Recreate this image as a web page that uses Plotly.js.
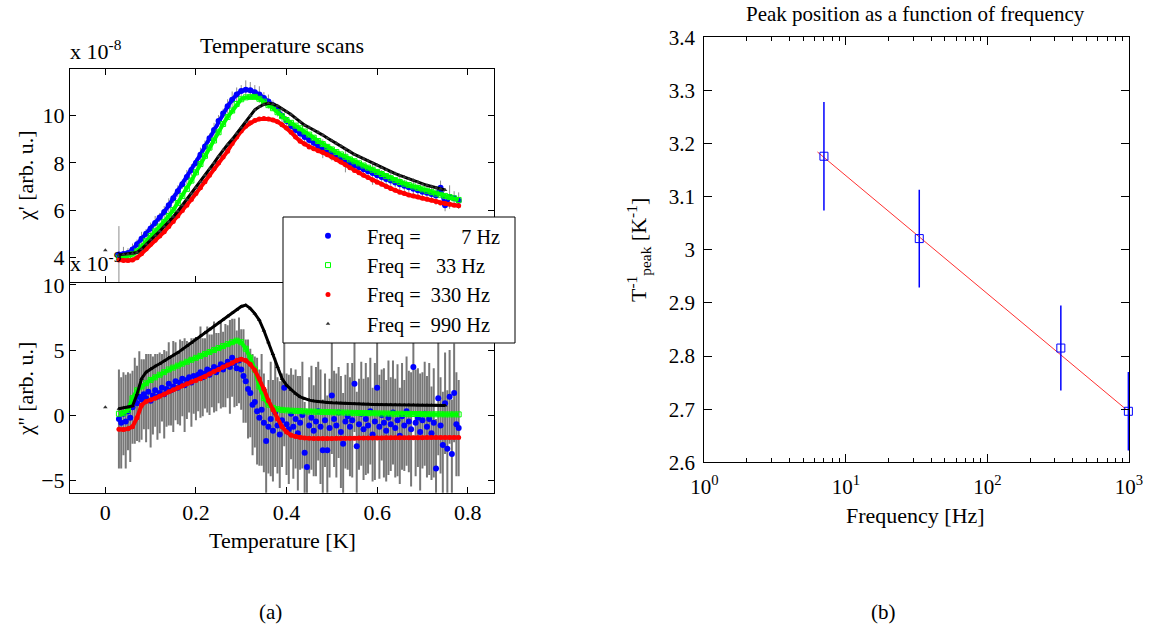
<!DOCTYPE html>
<html><head><meta charset="utf-8">
<script src="https://cdn.plot.ly/plotly-3.0.1.min.js"></script>
<style>html,body{margin:0;padding:0;background:#fff}#chart{width:1150px;height:634px}</style>
</head><body><div id="chart"></div>
<script>
// ---------- data: temperature grid (K) ----------
const T = [0.03,0.04,0.05,0.06,0.07,0.08,0.09,0.10,0.11,0.12,
  0.13,0.14,0.15,0.16,0.17,0.18,0.19,0.20,0.21,0.22,
  0.23,0.24,0.25,0.26,0.27,0.28,0.29,0.30,0.31,0.32,
  0.33,0.34,0.35,0.36,0.37,0.38,0.39,0.40,0.41,0.42,
  0.43,0.44,0.45,0.46,0.47,0.48,0.49,0.50,0.51,0.52,
  0.53,0.54,0.55,0.56,0.57,0.58,0.59,0.60,0.61,0.62,
  0.63,0.64,0.65,0.66,0.67,0.68,0.69,0.70,0.71,0.72,
  0.73,0.74,0.75,0.76,0.77,0.78];
const T2 = [0.030,0.035,0.040,0.045,0.050,0.055,0.060,0.065,0.070,0.075,
  0.080,0.085,0.090,0.095,0.100,0.105,0.110,0.115,0.120,0.125,
  0.130,0.135,0.140,0.145,0.150,0.155,0.160,0.165,0.170,0.175,
  0.180,0.185,0.190,0.195,0.200,0.205,0.210,0.215,0.220,0.225,
  0.230,0.235,0.240,0.245,0.250,0.255,0.260,0.265,0.270,0.275,
  0.280,0.285,0.290,0.295,0.300,0.305,0.310,0.315,0.320,0.325,
  0.330,0.335,0.340,0.345,0.350,0.355,0.360,0.365,0.370,0.375,
  0.380,0.385,0.390,0.395,0.400,0.405,0.410,0.415,0.420,0.425,
  0.430,0.435,0.440,0.445,0.450,0.455,0.460,0.465,0.470,0.475,
  0.480,0.485,0.490,0.495,0.500,0.505,0.510,0.515,0.520,0.525,
  0.530,0.535,0.540,0.545,0.550,0.555,0.560,0.565,0.570,0.575,
  0.580,0.585,0.590,0.595,0.600,0.605,0.610,0.615,0.620,0.625,
  0.630,0.635,0.640,0.645,0.650,0.655,0.660,0.665,0.670,0.675,
  0.680,0.685,0.690,0.695,0.700,0.705,0.710,0.715,0.720,0.725,
  0.730,0.735,0.740,0.745,0.750,0.755,0.760,0.765,0.770,0.775,
  0.780];

// ---------- chi' (x 1e-8) ----------
const chi1_7 = [4.12,4.14,4.18,4.33,4.55,4.78,5.0,5.22,5.45,5.68,
  5.92,6.2,6.5,6.8,7.1,7.4,7.7,8.0,8.35,8.7,
  9.05,9.4,9.78,10.1,10.4,10.68,10.9,11.05,11.1,11.08,
  11.0,10.9,10.75,10.6,10.45,10.22,10.0,9.78,9.57,9.4,
  9.25,9.1,8.97,8.85,8.72,8.6,8.5,8.4,8.3,8.2,
  8.1,8.0,7.9,7.82,7.73,7.65,7.57,7.48,7.4,7.32,
  7.25,7.17,7.1,7.03,6.97,6.9,6.84,6.78,6.73,6.68,
  6.62,6.95,6.2,6.55,6.5,6.4];
const err1_7 = [1.2,0.3,0.2,0.25,0.2,0.3,0.2,0.25,0.3,0.2,
  0.25,0.3,0.2,0.25,0.2,0.3,0.25,0.2,0.3,0.25,
  0.2,0.3,0.25,0.2,0.3,0.35,0.3,0.25,0.4,0.35,
  0.3,0.35,0.25,0.3,0.2,0.25,0.3,0.2,0.25,0.2,
  0.3,0.25,0.2,0.3,0.25,0.4,0.2,0.3,0.25,0.2,
  0.5,0.25,0.2,0.3,0.25,0.2,0.5,0.2,0.3,0.25,
  0.4,0.2,0.3,0.25,0.2,0.3,0.25,0.2,0.3,0.25,
  0.4,0.3,0.25,0.5,0.3,0.35];
const chi1_33 = [3.98,4.0,4.05,4.12,4.25,4.45,4.68,4.9,5.1,5.3,
  5.5,5.75,6.0,6.3,6.6,6.9,7.25,7.6,7.95,8.3,
  8.65,8.95,9.3,9.65,9.95,10.22,10.5,10.7,10.78,10.8,
  10.8,10.72,10.6,10.45,10.32,10.15,9.98,9.82,9.7,9.58,
  9.47,9.33,9.2,9.07,8.93,8.8,8.68,8.57,8.46,8.36,
  8.26,8.15,8.07,7.98,7.89,7.8,7.71,7.62,7.53,7.44,
  7.35,7.27,7.19,7.12,7.06,7.0,6.94,6.88,6.82,6.76,
  6.7,6.65,6.6,6.55,6.5,6.43];
const chi1_330 = [3.88,3.86,3.86,3.88,3.98,4.15,4.35,4.55,4.72,4.9,
  5.08,5.3,5.52,5.75,5.98,6.2,6.45,6.7,6.95,7.2,
  7.48,7.75,8.0,8.25,8.5,8.82,9.1,9.35,9.55,9.7,
  9.8,9.86,9.88,9.86,9.82,9.75,9.62,9.48,9.3,9.1,
  8.92,8.8,8.68,8.6,8.52,8.45,8.35,8.25,8.15,8.04,
  7.92,7.8,7.68,7.58,7.48,7.38,7.28,7.18,7.1,7.0,
  6.92,6.84,6.76,6.7,6.64,6.6,6.55,6.5,6.46,6.42,
  6.36,6.3,6.28,6.25,6.2,6.18];
const chi1_990 = [4.1,4.12,4.13,4.15,4.2,4.35,4.55,4.75,4.92,5.1,
  5.3,5.5,5.72,5.95,6.2,6.45,6.7,6.95,7.2,7.48,
  7.75,8.0,8.28,8.55,8.78,9.0,9.25,9.5,9.75,10.0,
  10.25,10.38,10.48,10.53,10.5,10.42,10.3,10.17,10.05,9.9,
  9.75,9.6,9.5,9.4,9.3,9.18,9.06,8.95,8.83,8.72,
  8.6,8.48,8.36,8.27,8.18,8.09,8.0,7.9,7.8,7.7,
  7.62,7.55,7.47,7.4,7.33,7.26,7.19,7.1,7.05,7.0,
  6.95,6.9,6.85];

// ---------- chi'' (x 1e-9) ----------
const chi2_7 = [-0.3,-0.6,0.1,-0.5,0.3,-0.2,0.6,1.1,0.9,1.4,
  1.2,1.6,1.3,1.8,1.1,1.5,1.9,1.4,1.7,2.1,
  1.6,2.0,2.4,1.9,2.2,2.6,2.1,2.5,2.8,2.3,
  2.7,2.9,2.5,3.0,2.8,3.1,3.3,2.9,3.2,3.5,
  3.1,3.4,3.7,3.3,3.6,3.9,3.5,3.8,4.1,3.7,
  4.4,4.0,3.6,4.2,3.5,3.0,2.6,2.0,1.7,0.8,
  1.0,0.3,-0.2,0.4,-0.6,-2.0,-0.9,-0.3,-1.2,0.2,
  -0.8,-1.5,-0.4,2.1,-0.7,-1.1,0.1,-0.9,-0.3,-1.4,
  -0.6,0.0,-2.9,-4.0,-0.8,-0.2,-1.2,-0.5,0.3,-0.9,
  -2.7,-0.4,-2.7,-1.0,1.5,-0.3,-0.8,0.2,-1.3,-2.2,
  -0.5,-0.1,-0.9,-0.4,2.4,-2.4,-0.7,0.1,-1.1,-0.3,
  -0.8,0.3,-1.5,-0.5,2.1,-0.9,0.0,-0.6,-1.2,-0.2,
  -0.7,0.2,-1.0,-0.4,-1.6,-0.1,-0.8,0.3,-0.5,-1.1,
  3.7,-0.6,-0.2,-1.3,-0.4,0.1,-0.9,-0.3,-1.4,-0.6,
  -4.1,1.3,-0.8,-2.3,0.9,-2.6,1.4,-3.0,1.7,-0.7,
  -1.0];
const err2_7 = [3.8,3.5,3.2,3.6,3.0,3.4,2.8,3.3,2.9,3.5,
  3.1,2.7,3.4,2.9,3.6,3.0,2.8,3.3,3.1,2.6,
  3.4,2.9,3.2,2.7,3.5,3.0,2.8,3.3,2.9,3.6,
  3.0,2.7,3.4,2.9,3.2,2.8,3.5,3.0,2.7,3.3,
  3.1,2.8,3.5,3.0,2.7,3.4,2.9,3.2,2.8,3.6,
  3.0,3.4,2.9,3.3,3.1,3.6,3.2,3.8,3.4,3.9,
  3.5,4.1,3.7,4.3,3.8,4.0,3.6,4.4,3.9,4.2,
  3.7,4.1,3.6,4.5,3.9,4.2,3.5,4.0,3.8,4.4,
  3.6,4.1,3.9,4.3,3.7,4.0,3.5,4.2,3.8,4.4,
  3.9,3.6,4.2,3.8,4.5,3.7,4.0,3.5,4.3,3.9,
  3.6,4.1,3.8,4.4,3.7,4.2,3.5,4.0,3.9,4.3,
  3.7,4.1,3.6,4.5,3.8,4.0,3.5,4.2,3.9,4.4,
  3.6,4.0,3.8,4.3,3.7,4.1,3.5,4.2,3.9,4.4,
  3.6,4.1,3.8,4.5,3.7,4.0,3.9,4.3,3.6,4.2,
  3.8,4.4,3.7,4.1,3.9,4.5,3.6,4.2,3.8,4.0,
  3.7];
const chi2_33 = [0.1,0.15,0.4,1.3,1.9,2.2,2.45,2.7,2.9,3.1,
  3.3,3.5,3.65,3.8,3.95,4.1,4.25,4.4,4.55,4.7,
  4.85,5.0,5.15,5.3,5.45,5.6,5.72,5.6,5.1,4.4,
  3.5,2.2,1.3,0.8,0.55,0.45,0.4,0.36,0.34,0.32,
  0.3,0.28,0.27,0.26,0.25,0.24,0.23,0.22,0.21,0.2,
  0.19,0.18,0.17,0.16,0.15,0.15,0.14,0.13,0.12,0.12,
  0.11,0.1,0.1,0.09,0.09,0.08,0.08,0.07,0.07,0.06,
  0.06,0.06,0.05,0.05,0.05,0.05];
const chi2_330 = [-1.1,-1.12,-1.05,-0.9,-0.2,0.75,1.05,1.15,1.3,1.45,
  1.6,1.8,1.95,2.1,2.25,2.4,2.55,2.65,2.8,2.95,
  3.15,3.35,3.5,3.7,3.85,4.0,4.2,4.3,4.2,3.9,
  3.45,2.8,2.0,1.1,0.4,-0.3,-0.9,-1.3,-1.55,-1.65,
  -1.72,-1.76,-1.78,-1.8,-1.8,-1.8,-1.8,-1.8,-1.79,-1.79,
  -1.78,-1.78,-1.78,-1.77,-1.77,-1.77,-1.76,-1.76,-1.76,-1.75,
  -1.75,-1.75,-1.75,-1.74,-1.74,-1.74,-1.74,-1.74,-1.73,-1.73,
  -1.73,-1.73,-1.73,-1.73,-1.73,-1.73];
const chi2_990 = [0.49,0.55,0.6,0.7,1.6,2.8,3.3,3.55,3.75,3.95,
  4.15,4.4,4.6,4.8,5.05,5.3,5.55,5.85,6.1,6.35,
  6.6,6.85,7.1,7.35,7.6,7.85,8.1,8.35,8.45,8.2,
  7.8,7.3,6.5,5.6,4.7,3.7,2.8,2.3,1.95,1.65,
  1.4,1.25,1.15,1.08,1.03,1.0,0.97,0.94,0.92,0.9,
  0.88,0.87,0.86,0.85,0.84,0.83,0.82,0.81,0.8,0.8,
  0.79,0.79,0.78,0.78,0.77,0.77,0.76,0.76,0.75,0.75,
  0.74,0.74,0.74];
const strayT = [0];
const strayChi1_990 = [4.3];
const strayChi2_990 = [0.6];

// ---------- peak position vs frequency ----------
const freq = [7, 33, 330, 990];
const invTpeak = [3.176, 3.021, 2.815, 2.696];
const invTpeakErr = [0.102, 0.092, 0.080, 0.074];
const fitFreq = [6.3, 950];
const fitInvT = [3.184, 2.700];

const legendNames = ['Freq =\u00a0\u00a0\u00a0\u00a0\u00a0\u00a0\u00a0\u00a07 Hz',
  'Freq =\u00a0\u00a0\u00a033 Hz', 'Freq =\u00a0\u00a0330 Hz', 'Freq =\u00a0\u00a0990 Hz'];

// ---------- drawing ----------
const FONT = 'Liberation Serif, Times New Roman, serif';
const W = 1150, H = 634;
const px = v => v / W;
const py = v => (H - v) / H;
const BLUE = '#0000ff', GREEN = '#00ff00', RED = '#ff0000', BLACK = '#000000';
const T990 = T.slice(0, chi1_990.length);

function lineTr(x, y, color, w, xa, ya) {
  return {x: x, y: y, mode: 'lines', line: {color: color, width: w}, xaxis: xa, yaxis: ya,
    showlegend: false, hoverinfo: 'skip'};
}
function markTr(x, y, color, sym, size, xa, ya, name) {
  return {x: x, y: y, mode: 'markers', marker: {color: color, symbol: sym, size: size,
    line: {color: color, width: sym.indexOf('open') >= 0 ? 1 : 0}},
    xaxis: xa, yaxis: ya, name: name || '', showlegend: !!name, hoverinfo: 'skip'};
}

const traces = [];
// upper panel
const bl1 = lineTr(T, chi1_7, BLUE, 4, 'x', 'y');
bl1.error_y = {type: 'data', array: err1_7, color: '#8c8c8c', thickness: 1, width: 0};
traces.push(bl1);
traces.push(markTr(T, chi1_7, BLUE, 'circle', 6, 'x', 'y', legendNames[0]));
traces.push(lineTr(T, chi1_33, GREEN, 4, 'x', 'y'));
traces.push(markTr(T, chi1_33, GREEN, 'square-open', 5, 'x', 'y', legendNames[1]));
traces.push(lineTr(T, chi1_330, RED, 4, 'x', 'y'));
traces.push(markTr(T, chi1_330, RED, 'circle', 5, 'x', 'y', legendNames[2]));
traces.push(lineTr(T990, chi1_990, BLACK, 3, 'x', 'y'));
traces.push(markTr(T990, chi1_990, '#333333', 'triangle-up', 4, 'x', 'y', legendNames[3]));
traces.push(markTr(strayT, strayChi1_990, '#333333', 'triangle-up', 4, 'x', 'y'));

// lower panel
const bl2 = markTr(T2, chi2_7, BLUE, 'circle', 6, 'x2', 'y2');
bl2.error_y = {type: 'data', array: err2_7, color: '#777777', thickness: 2, width: 0};
traces.push(bl2);
traces.push(lineTr(T, chi2_33, GREEN, 4, 'x2', 'y2'));
traces.push(markTr(T, chi2_33, GREEN, 'square-open', 5, 'x2', 'y2'));
traces.push(lineTr(T, chi2_330, RED, 4, 'x2', 'y2'));
traces.push(markTr(T, chi2_330, RED, 'circle', 5, 'x2', 'y2'));
traces.push(lineTr(T990, chi2_990, BLACK, 3, 'x2', 'y2'));
traces.push(markTr(T990, chi2_990, BLACK, 'triangle-up', 4, 'x2', 'y2'));
traces.push(markTr(strayT, strayChi2_990, '#333333', 'triangle-up', 4, 'x2', 'y2'));

// right panel
traces.push(lineTr(fitFreq, fitInvT, '#ff3030', 1, 'x3', 'y3'));
traces.push({x: freq, y: invTpeak, mode: 'markers', xaxis: 'x3', yaxis: 'y3', showlegend: false,
  cliponaxis: false,
  marker: {symbol: 'square-open', size: 8, color: BLUE, line: {color: BLUE, width: 1}},
  error_y: {type: 'data', array: invTpeakErr, color: BLUE, thickness: 1.5, width: 0}, hoverinfo: 'skip'});

function ax(extra) {
  return Object.assign({showline: true, linecolor: '#000', linewidth: 1, mirror: 'ticks',
    ticks: 'inside', ticklen: 6, tickcolor: '#000', showgrid: false, zeroline: false,
    tickfont: {family: FONT, size: 22, color: '#000'}}, extra);
}

const xDomL = [px(70), px(494)];
const layout = {
  width: W, height: H, margin: {l: 0, r: 0, t: 0, b: 0},
  paper_bgcolor: '#fff', plot_bgcolor: '#fff',
  font: {family: FONT, color: '#000', size: 22},
  xaxis: ax({domain: xDomL, anchor: 'y', range: [-0.078, 0.858], tickvals: [0, 0.2, 0.4, 0.6, 0.8], showticklabels: false}),
  yaxis: ax({domain: [py(282), py(69.3)], anchor: 'x', range: [2.95, 11.97], tickvals: [4, 6, 8, 10]}),
  xaxis2: ax({domain: xDomL, anchor: 'y2', range: [-0.078, 0.858], tickvals: [0, 0.2, 0.4, 0.6, 0.8], mirror: false}),
  yaxis2: ax({domain: [py(492.7), py(282)], anchor: 'x2', range: [-5.97, 10.23], tickvals: [-5, 0, 5, 10]}),
  xaxis3: ax({domain: [px(704.3), px(1129)], anchor: 'y3', type: 'log', range: [0, 3], ticklen: 8,
    ticklabelstandoff: 5, ticklabeloverflow: 'allow', tickfont: {family: FONT, size: 21, color: '#000'},
    tickvals: [1, 10, 100, 1000], ticktext: ['10<sup>0</sup>', '10<sup>1</sup>', '10<sup>2</sup>', '10<sup>3</sup>'],
    minor: {dtick: 'D1', ticks: 'inside', ticklen: 4, tickcolor: '#000', showgrid: false}}),
  yaxis3: ax({domain: [py(462.3), py(37.2)], anchor: 'x3', range: [2.6, 3.4], tick0: 2.6, dtick: 0.1, ticklen: 8,
    ticklabelstandoff: 4, tickfont: {family: FONT, size: 21, color: '#000'}}),
  showlegend: true,
  legend: {x: px(289), xanchor: 'left', y: py(216), yanchor: 'top', bgcolor: 'rgba(0,0,0,0)',
    borderwidth: 0, itemwidth: 68, font: {family: FONT, size: 20.3, color: '#000'}},
  shapes: [{type: 'rect', xref: 'paper', yref: 'paper', x0: px(283), x1: px(515), y0: py(343), y1: py(217),
    fillcolor: '#fff', line: {color: '#000', width: 1}, layer: 'above'}],
  annotations: []
};
function txt(s, x, y, opts) {
  layout.annotations.push(Object.assign({text: s, xref: 'paper', yref: 'paper', x: px(x), y: py(y),
    showarrow: false, font: {family: FONT, size: 22, color: '#000'}, xanchor: 'center', yanchor: 'middle'}, opts || {}));
}
txt('Temperature scans', 282, 45);
txt('x 10<sup>-8</sup>', 68, 50, {xanchor: 'left'});
txt('x 10<sup>-9</sup>', 68, 262, {xanchor: 'left'});
txt("χ' [arb. u.]", 25, 176, {textangle: -90});
txt("χ'' [arb. u.]", 25, 389, {textangle: -90});
txt('Temperature [K]', 282, 540);
txt('Peak position as a function of frequency', 915, 14, {font: {family: FONT, size: 21, color: '#000'}});
txt('Frequency [Hz]', 915, 515);
txt('T<sup>-1</sup><sub>peak</sub> [K<sup>-1</sup>]', 638, 250, {textangle: -90});
txt('(a)', 270, 612, {font: {family: FONT, size: 21, color: '#000'}});
txt('(b)', 883, 612, {font: {family: FONT, size: 21, color: '#000'}});

Plotly.newPlot('chart', traces, layout, {staticPlot: true, displayModeBar: false});
</script></body></html>
